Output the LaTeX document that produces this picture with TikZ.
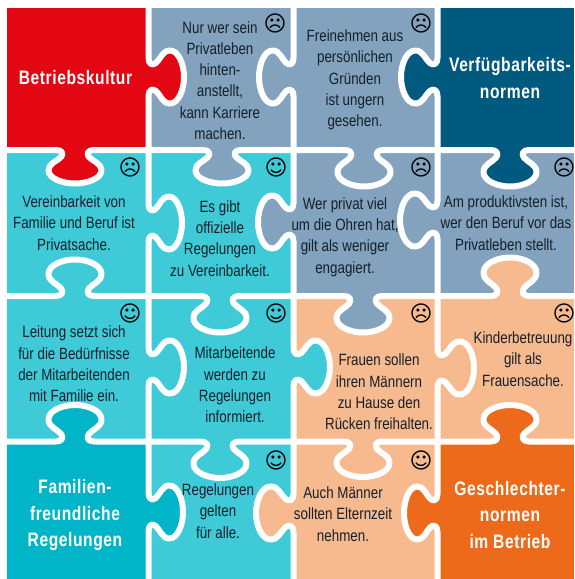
\documentclass[tikz,border=0pt]{standalone}
\usepackage{fontspec}
\setmainfont[FakeStretch=0.82]{Liberation Sans}
\newfontfamily\headfont[FakeStretch=0.80,LetterSpace=3]{Liberation Sans}
\newfontfamily\facefont{DejaVu Sans}
\definecolor{cred}{HTML}{E30613}
\definecolor{cgrey}{HTML}{82A2BE}
\definecolor{ccyan}{HTML}{3FCAD8}
\definecolor{cteal}{HTML}{00B5C8}
\definecolor{cnavy}{HTML}{005A7F}
\definecolor{corange}{HTML}{EC6A1A}
\definecolor{cpeach}{HTML}{F7B98E}
\definecolor{ctext}{HTML}{14202A}
\tikzset{
  cut/.style={draw=white,line width=6pt,line join=round,line cap=rect},
  say/.style={align=center,text=ctext,font=\fontsize{16.3}{21.3}\selectfont,inner sep=0pt},
  head/.style={align=center,text=white,font=\headfont\fontsize{19.5}{26.2}\selectfont\bfseries,inner sep=0pt},
  face/.style={text=black,font=\fontsize{22}{22}\selectfont\facefont,inner sep=0pt}
}
% local coordinates: u along the edge, v outward; tip at v=38
\newcommand\knobcurve{(-19,0) .. controls (-13,0) and (-11,4) .. (-14,8)
  .. controls (-18,13) and (-26.5,15) .. (-26.5,23)
  .. controls (-26.5,32) and (-13,38) .. (0,38)
  .. controls (13,38) and (26.5,32) .. (26.5,23)
  .. controls (26.5,15) and (18,13) .. (14,8)
  .. controls (11,4) and (13,0) .. (19,0)}
\newcommand\knobbody[3]{%
  \fill[#3] \knobcurve -- (19,-2) -- (-19,-2) -- cycle;
  \draw[cut] (#1,0) -- \knobcurve -- (#2,0);}
% \vknob{x}{yc}{y0}{y1}{dir}{length}{colour}
\newcommand\vknob[7]{\begin{scope}[shift={(#1,#2)}]
  \pgfmathsetmacro\kscale{#5*#6/38}
  \pgfmathsetmacro\kfrom{#3-#2}\pgfmathsetmacro\kto{#4-#2}
  \begin{scope}[x={(0pt,-1pt)},y={(\kscale pt,0pt)}]
  \knobbody{\kfrom}{\kto}{#7}
  \end{scope}\end{scope}}
% \hknob{y}{xc}{x0}{x1}{dir}{length}{colour}
\newcommand\hknob[7]{\begin{scope}[shift={(#2,#1)}]
  \pgfmathsetmacro\kscale{#5*#6/38}
  \pgfmathsetmacro\kfrom{#3-#2}\pgfmathsetmacro\kto{#4-#2}
  \begin{scope}[x={(1pt,0pt)},y={(0pt,-\kscale pt)}]
  \knobbody{\kfrom}{\kto}{#7}
  \end{scope}\end{scope}}
\begin{document}
\begin{tikzpicture}[x=1pt,y=-1pt]
\useasboundingbox (0,0) rectangle (574,579);
\fill[white] (0,0) rectangle (574,579);
% cells
\fill[cred]  (6.5,7.5) rectangle (148.5,150);
\fill[cgrey] (148.5,7.5) rectangle (437.5,150);
\fill[cnavy] (437.5,7.5) rectangle (574,150);
\fill[ccyan] (6.5,150) rectangle (293.5,296);
\fill[cgrey] (293.5,150) rectangle (574,296);
\fill[ccyan] (6.5,296) rectangle (293.5,441.5);
\fill[cpeach] (293.5,296) rectangle (574,441.5);
\fill[cteal] (6.5,441.5) rectangle (148.5,579);
\fill[ccyan] (148.5,441.5) rectangle (293.5,579);
\fill[cpeach] (293.5,441.5) rectangle (437.5,579);
\fill[corange] (437.5,441.5) rectangle (574,579);
% vertical cuts
\vknob{148.5}{77}{7.5}{150}{1}{35.5}{cred}
\vknob{148.5}{223}{150}{296}{1}{33.5}{ccyan}
\vknob{148.5}{367}{296}{441.5}{1}{35.5}{ccyan}
\vknob{148.5}{512}{441.5}{579}{1}{34.5}{cteal}
\vknob{293.5}{77}{7.5}{150}{-1}{34.5}{cgrey}
\vknob{293.5}{222}{150}{296}{-1}{35.5}{cgrey}
\vknob{293.5}{367}{296}{441.5}{1}{36.5}{ccyan}
\vknob{293.5}{513}{441.5}{579}{-1}{37.5}{cpeach}
\vknob{437.5}{77}{7.5}{150}{-1}{36.5}{cnavy}
\vknob{437.5}{220}{150}{296}{-1}{37.5}{cgrey}
\vknob{437.5}{368}{296}{441.5}{1}{36.5}{cpeach}
\vknob{437.5}{513}{441.5}{579}{-1}{33.5}{corange}
% horizontal cuts
\hknob{150}{75}{6.5}{148.5}{1}{33.5}{cred}
\hknob{150}{222}{148.5}{293.5}{1}{33.5}{cgrey}
\hknob{150}{364}{293.5}{437.5}{1}{36.5}{cgrey}
\hknob{150}{510}{437.5}{574}{1}{36.5}{cnavy}
\hknob{296}{75}{6.5}{148.5}{-1}{36.5}{ccyan}
\hknob{296}{220}{148.5}{293.5}{1}{36.5}{ccyan}
\hknob{296}{363}{293.5}{437.5}{1}{36.5}{cgrey}
\hknob{296}{510}{437.5}{574}{-1}{38.5}{cpeach}
\hknob{441.5}{75}{6.5}{148.5}{-1}{36.5}{cteal}
\hknob{441.5}{220}{148.5}{293.5}{1}{36.5}{ccyan}
\hknob{441.5}{363}{293.5}{437.5}{1}{35.5}{cpeach}
\hknob{441.5}{510}{437.5}{574}{-1}{36.5}{corange}
% texts
\node[say] (t1) at (220,80.5) {Nur wer sein\\Privatleben\\hinten-\\anstellt,\\kann Karriere\\machen.};
\node[say] (t2) at (355,80) {Freinehmen aus\\persönlichen\\Gründen\\ist ungern\\gesehen.};
\node[say] (t3) at (74,223) {Vereinbarkeit von\\Familie und Beruf ist\\Privatsache.};
\node[say] (t4) at (220,238.5) {Es gibt\\offizielle\\Regelungen\\zu Vereinbarkeit.};
\node[say] (t5) at (345,237) {Wer privat viel\\um die Ohren hat,\\gilt als weniger\\engagiert.};
\node[say] (t6) at (506,223) {Am produktivsten ist,\\wer den Beruf vor das\\Privatleben stellt.};
\node[say] (t7) at (74,364) {Leitung setzt sich\\für die Bedürfnisse\\der Mitarbeitenden\\mit Familie ein.};
\node[say] (t8) at (235,385) {Mitarbeitende\\werden zu\\Regelungen\\informiert.};
\node[say] (t9) at (379,392) {Frauen sollen\\ihren Männern\\zu Hause den\\Rücken freihalten.};
\node[say] (t10) at (523,359) {Kinderbetreuung\\gilt als\\Frauensache.};
\node[say] (t11) at (218,511) {Regelungen\\gelten\\für alle.};
\node[say] (t12) at (343,514) {Auch Männer\\sollten Elternzeit\\nehmen.};
\node[head] (h1) at (75.5,78) {Betriebskultur};
\node[head] (h2) at (510,78) {Verfügbarkeits-\\normen};
\node[head] (h3) at (75,515) {Familien-\\freundliche\\Regelungen};
\node[head] (h4) at (510,515) {Geschlechter-\\normen\\im Betrieb};
% faces
\node[face] (f1) at (275,23) {☹};
\node[face] (f2) at (421,23) {☹};
\node[face] (f3) at (130,167) {☹};
\node[face] (f4) at (276,167) {☺};
\node[face] (f5) at (421,167) {☹};
\node[face] (f6) at (564,167) {☹};
\node[face] (f7) at (130,313) {☺};
\node[face] (f8) at (276,313) {☺};
\node[face] (f9) at (421,313) {☹};
\node[face] (f10) at (564,313) {☹};
\node[face] (f11) at (276,460) {☺};
\node[face] (f12) at (421,460) {☺};
\end{tikzpicture}
\end{document}
